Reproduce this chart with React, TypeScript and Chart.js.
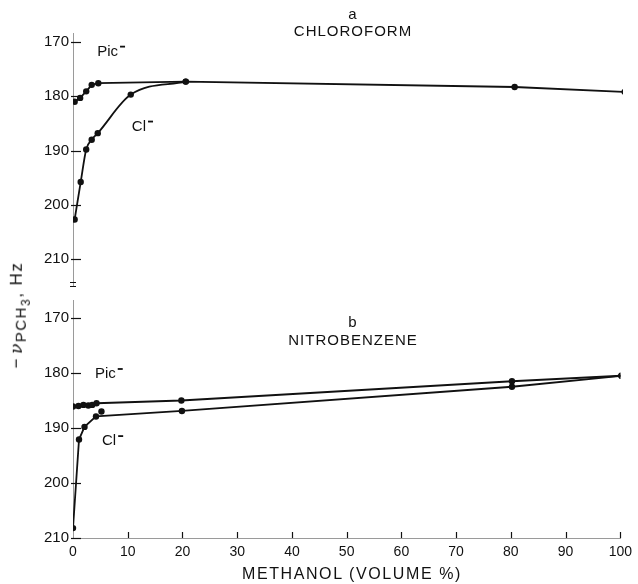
import React, { useEffect, useRef } from "react";
import { Chart, registerables } from "chart.js";

Chart.register(...registerables);

const FONT = '"Liberation Sans", Arial, Helvetica, sans-serif';

// shared tick values
const xTicks = [0, 10, 20, 30, 40, 50, 60, 70, 80, 90, 100];
const yTicks = [170, 180, 190, 200, 210];

// Panel a: chloroform
const chlPicX = [0.3, 1.3, 2.4, 3.4, 4.6, 20.5, 80.3, 100.3];
const chlPicY = [181.0, 180.3, 179.1, 177.9, 177.6, 177.3, 178.3, 179.2];
const chlClX = [0.3, 1.4, 2.4, 3.4, 4.5, 10.5, 20.5];
const chlClY = [202.7, 195.8, 189.8, 188.0, 186.8, 179.7, 177.3];

// Panel b: nitrobenzene
const nbPicX = [0, 1, 1.9, 2.8, 3.5, 4.3, 19.8, 80.2, 100.2];
const nbPicY = [186.1, 186.0, 185.8, 185.9, 185.8, 185.5, 185.0, 181.5, 180.5];
const nbClX = [0, 1.1, 2.1, 4.2, 19.9, 80.2, 100.2];
const nbClY = [208.2, 192.1, 189.8, 187.9, 186.9, 182.5, 180.5];
const nbClExtraX = [5.2];
const nbClExtraY = [187.0];

const zip = (xs: number[], ys: number[]) => xs.map((x, i) => ({ x, y: ys[i] }));

const lineStyle = (smooth: boolean, showLine = true) => ({
  showLine,
  borderColor: "#111",
  borderWidth: 1.8,
  pointRadius: 3.2,
  pointBackgroundColor: "#111",
  pointBorderWidth: 0,
  tension: smooth ? 0.4 : 0,
  cubicInterpolationMode: smooth ? ("monotone" as const) : ("default" as const),
});

type Label = { text: string; x: number; y: number };

const overlayPlugin = {
  id: "overlay",
  afterDraw(chart: any) {
    const ctx = chart.ctx as CanvasRenderingContext2D;
    const { left, bottom } = chart.chartArea;
    const xs = chart.scales.x;
    const ys = chart.scales.y;
    const opts = chart.options.plugins.overlay || {};
    ctx.save();
    ctx.strokeStyle = "#111";
    ctx.lineWidth = 1.2;
    // inward y ticks
    ys.ticks.forEach((t: any) => {
      const py = Math.round(ys.getPixelForValue(t.value)) + 0.5;
      ctx.beginPath();
      ctx.moveTo(left - 2, py);
      ctx.lineTo(left + 8, py);
      ctx.stroke();
    });
    // inward x ticks
    if (opts.xTicks) {
      xs.ticks.forEach((t: any) => {
        if (t.value === 0) return;
        const px = Math.round(xs.getPixelForValue(t.value)) + 0.5;
        ctx.beginPath();
        ctx.moveTo(px, bottom);
        ctx.lineTo(px, bottom - 6);
        ctx.stroke();
      });
    }
    // axis break marks
    if (opts.breakMark) {
      ctx.lineWidth = 1;
      [bottom - 4, bottom].forEach((py) => {
        ctx.beginPath();
        ctx.moveTo(left - 3, py + 0.5);
        ctx.lineTo(left + 3, py + 0.5);
        ctx.stroke();
      });
    }
    // curve labels
    ctx.fillStyle = "#111";
    ctx.font = `15px ${FONT}`;
    ctx.textBaseline = "middle";
    ctx.textAlign = "left";
    (opts.labels || []).forEach((l: Label) => {
      const px = xs.getPixelForValue(l.x);
      const py = ys.getPixelForValue(l.y);
      ctx.fillText(l.text, px, py);
      const w = ctx.measureText(l.text).width;
      ctx.fillRect(px + w + 2, py - 6, 5, 1.8);
    });
    ctx.restore();
  },
};

function buildConfig(panel: "top" | "bottom"): any {
  const isTop = panel === "top";
  const datasets = isTop
    ? [
        { label: "Pic-", data: zip(chlPicX, chlPicY), ...lineStyle(false) },
        { label: "Cl-", data: zip(chlClX, chlClY), ...lineStyle(true) },
      ]
    : [
        { label: "Pic-", data: zip(nbPicX, nbPicY), ...lineStyle(false) },
        { label: "Cl-", data: zip(nbClX, nbClY), ...lineStyle(false) },
        { label: "Cl- extra", data: zip(nbClExtraX, nbClExtraY), ...lineStyle(false, false) },
      ];

  const border = { display: true, color: "#9a9a9a", width: 1, dash: [2, 2] };

  return {
    type: "scatter",
    data: { datasets },
    plugins: [overlayPlugin],
    options: {
      responsive: false,
      animation: false,
      layout: {
        padding: isTop
          ? { top: 33, right: 15, bottom: 3, left: 0 }
          : { top: 10, right: 15, bottom: 0, left: 0 },
      },
      plugins: {
        legend: { display: false },
        tooltip: { enabled: false },
        overlay: {
          xTicks: !isTop,
          breakMark: isTop,
          labels: isTop
            ? [
                { text: "Pic", x: 4.4, y: 171.8 },
                { text: "Cl", x: 10.7, y: 185.6 },
              ]
            : [
                { text: "Pic", x: 4.0, y: 180.2 },
                { text: "Cl", x: 5.3, y: 192.4 },
              ],
        },
      },
      scales: {
        x: {
          type: "linear",
          min: 0,
          max: 100,
          display: !isTop,
          grid: { display: false, drawTicks: false },
          border,
          afterBuildTicks: (s: any) => {
            s.ticks = xTicks.map((v) => ({ value: v }));
          },
          afterFit: (s: any) => {
            s.height = isTop ? 0 : 46;
          },
          ticks: {
            color: "#111",
            padding: 6,
            font: { family: FONT, size: 14 },
          },
          title: { display: false },
        },
        y: {
          type: "linear",
          reverse: true,
          min: isTop ? 168.35 : 166.73,
          max: isTop ? 214.95 : 210,
          grid: { display: false, drawTicks: false },
          border,
          afterBuildTicks: (s: any) => {
            s.ticks = yTicks.map((v) => ({ value: v }));
          },
          afterFit: (s: any) => {
            s.width = 73;
            s.paddingTop = 0;
            s.paddingBottom = 0;
          },
          ticks: {
            color: "#111",
            padding: 4,
            font: { family: FONT, size: 15 },
          },
        },
      },
    },
  };
}

export default function App() {
  const topRef = useRef<HTMLCanvasElement>(null);
  const botRef = useRef<HTMLCanvasElement>(null);

  useEffect(() => {
    const top = new Chart(topRef.current!, buildConfig("top"));
    const bot = new Chart(botRef.current!, buildConfig("bottom"));
    return () => {
      top.destroy();
      bot.destroy();
    };
  }, []);

  const titleStyle: React.CSSProperties = {
    position: "absolute",
    left: 353,
    transform: "translate(-50%, -50%)",
    fontFamily: FONT,
    fontSize: 15,
    letterSpacing: 1,
    color: "#111",
    whiteSpace: "nowrap",
    lineHeight: 1,
  };

  return (
    <div
      style={{
        position: "absolute",
        left: 0,
        top: 0,
        width: 638,
        height: 584,
        background: "#fff",
        overflow: "hidden",
      }}
    >
      <canvas
        ref={topRef}
        width={638}
        height={290}
        style={{ position: "absolute", left: 0, top: 0 }}
      />
      <canvas
        ref={botRef}
        width={638}
        height={294}
        style={{ position: "absolute", left: 0, top: 290 }}
      />
      <div style={{ ...titleStyle, top: 13 }}>a</div>
      <div style={{ ...titleStyle, top: 30 }}>CHLOROFORM</div>
      <div style={{ ...titleStyle, top: 321 }}>b</div>
      <div style={{ ...titleStyle, top: 339 }}>NITROBENZENE</div>
      <div style={{ ...titleStyle, left: 352, top: 574, fontSize: 16, letterSpacing: 1.6 }}>
        METHANOL (VOLUME %)
      </div>
      <div
        style={{
          position: "absolute",
          left: 20,
          top: 315,
          transform: "translate(-50%, -50%) rotate(-90deg)",
          fontFamily: FONT,
          fontSize: 17,
          letterSpacing: 1.5,
          color: "#111",
          whiteSpace: "nowrap",
          lineHeight: 1,
        }}
      >
        −<i style={{ fontFamily: '"DejaVu Serif", serif', paddingLeft: 3 }}>ν</i>
        <sub style={{ fontSize: 15 }}>
          PCH<sub style={{ fontSize: 12 }}>3</sub>
        </sub>
        , Hz
      </div>
    </div>
  );
}
